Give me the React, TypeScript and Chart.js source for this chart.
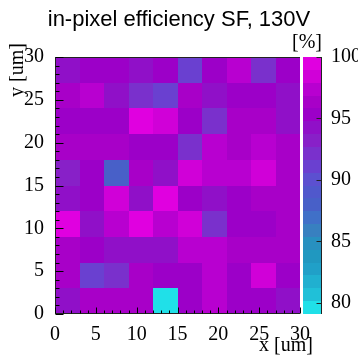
import React, { useEffect, useRef } from "react";
import { Chart, registerables } from "chart.js";
Chart.register(...registerables);

// ---- data ----
const xEdges = [0, 3, 6, 9, 12, 15, 18, 21, 24, 27, 30];
const yEdges = [0, 3, 6, 9, 12, 15, 18, 21, 24, 27, 30];
// efficiency [%] per row, from y = 0-3 (effY0) up to y = 27-30 (effY9)
const effY0 = [94.5, 96.2, 96.3, 96.3, 79.1, 95.2, 97.3, 95.3, 94.8, 93.8];
const effY1 = [96.2, 91.0, 92.3, 96.2, 95.5, 95.3, 97.0, 95.3, 98.5, 95.5];
const effY2 = [96.0, 95.3, 94.0, 94.0, 94.0, 97.0, 97.0, 96.3, 96.3, 96.3];
const effY3 = [99.5, 94.0, 97.5, 99.5, 97.3, 98.5, 92.2, 95.3, 95.3, 96.5];
const effY4 = [94.0, 95.2, 98.3, 94.0, 99.5, 95.5, 94.3, 95.3, 96.3, 96.3];
const effY5 = [93.5, 95.2, 88.0, 96.2, 94.3, 98.5, 97.2, 97.2, 98.5, 96.3];
const effY6 = [96.2, 96.2, 96.2, 95.3, 95.3, 92.5, 97.3, 96.5, 97.3, 96.3];
const effY7 = [95.5, 95.5, 95.5, 99.5, 98.5, 95.3, 92.0, 96.3, 96.3, 94.3];
const effY8 = [96.0, 97.2, 94.0, 92.0, 91.5, 96.3, 94.3, 95.3, 95.5, 94.3];
const effY9 = [94.0, 95.5, 95.0, 94.5, 95.3, 91.0, 95.0, 97.0, 92.0, 95.5];
const effRows = [effY0, effY1, effY2, effY3, effY4, effY5, effY6, effY7, effY8, effY9];

const xTickLabels = [0, 5, 10, 15, 20, 25, 30];
const yTickLabels = [0, 5, 10, 15, 20, 25, 30];
const zTickLabels = [80, 85, 90, 95, 100];
const zMin = 79.1;
const zMax = 100;
const minorStep = 1;

const titleText = "in-pixel efficiency SF, 130V";
const xTitle = "x [um]";
const yTitle = "y [um]";
const zTitle = "[%]";

// 20 contour bands, low -> high
const palette = [
  "#20e0e8", "#20c0d8", "#20b0d0", "#20a0c8", "#2098c0",
  "#2890c0", "#3880c0", "#4070c8", "#4860c8", "#5058cc",
  "#5c50d0", "#6a40d0", "#7a30cc", "#8820c8", "#9010c8",
  "#9c00c8", "#a800c8", "#b800d0", "#d000d8", "#e000e0",
];

const SERIF = "'Liberation Serif', 'DejaVu Serif', serif";
const SANS = "'Liberation Sans', Arial, sans-serif";

function colorFor(v: number) {
  const n = palette.length;
  let k = Math.floor(((v - zMin) / (zMax - zMin)) * n);
  if (k < 0) k = 0;
  if (k > n - 1) k = n - 1;
  return palette[k];
}

const heatmapPlugin = {
  id: "heatmap",
  beforeDatasetsDraw(chart: any) {
    const { ctx, scales } = chart;
    const x = scales.x, y = scales.y, z = scales.z;
    ctx.save();
    effRows.forEach((row, j) => {
      row.forEach((v, i) => {
        const x0 = Math.round(x.getPixelForValue(xEdges[i]));
        const x1 = Math.round(x.getPixelForValue(xEdges[i + 1]));
        const y0 = Math.round(y.getPixelForValue(yEdges[j + 1]));
        const y1 = Math.round(y.getPixelForValue(yEdges[j]));
        ctx.fillStyle = colorFor(v);
        ctx.fillRect(x0, y0, x1 - x0, y1 - y0);
      });
    });
    // colour bar
    const ca = chart.chartArea;
    const barL = Math.round(ca.right + 3);
    const barW = 18;
    const n = palette.length;
    for (let k = 0; k < n; k++) {
      const lo = zMin + (k * (zMax - zMin)) / n;
      const hi = zMin + ((k + 1) * (zMax - zMin)) / n;
      const p0 = Math.round(z.getPixelForValue(hi));
      const p1 = Math.round(z.getPixelForValue(lo));
      ctx.fillStyle = palette[k];
      ctx.fillRect(barL, p0, barW, p1 - p0);
    }
    ctx.restore();
  },
  afterDatasetsDraw(chart: any) {
    const { ctx, chartArea: ca, scales } = chart;
    const x = scales.x, y = scales.y, z = scales.z;
    ctx.save();
    ctx.strokeStyle = "#222";
    ctx.lineWidth = 1;
    ctx.beginPath();
    const L = Math.round(ca.left) + 0.5;
    const T = Math.round(ca.top) + 0.5;
    const B = Math.round(ca.bottom) - 0.5;
    const R = Math.round(ca.right);
    ctx.moveTo(L, T); ctx.lineTo(R, T);
    ctx.moveTo(L, T); ctx.lineTo(L, B + 0.5);
    ctx.moveTo(L - 0.5, B); ctx.lineTo(R, B);
    ctx.stroke();
    ctx.strokeStyle = "#000";
    ctx.beginPath();
    for (let v = xTickLabels[0]; v <= xTickLabels[xTickLabels.length - 1] + 1e-9; v += minorStep) {
      const px = Math.round(x.getPixelForValue(v)) + 0.5;
      const len = xTickLabels.includes(v) ? 6 : 3;
      ctx.moveTo(px, B); ctx.lineTo(px, B - len);
    }
    for (let v = yTickLabels[0]; v <= yTickLabels[yTickLabels.length - 1] + 1e-9; v += minorStep) {
      const py = Math.round(y.getPixelForValue(v)) + 0.5;
      const len = yTickLabels.includes(v) ? 8 : 4;
      ctx.moveTo(L, py); ctx.lineTo(L + len, py);
    }
    ctx.stroke();
    // colour bar axis
    const axX = Math.round(ca.right + 21) + 0.5;
    ctx.strokeStyle = "#222";
    ctx.beginPath();
    ctx.moveTo(axX, Math.round(ca.top)); ctx.lineTo(axX, Math.round(ca.bottom));
    zTickLabels.forEach((v) => {
      const py = Math.round(z.getPixelForValue(v)) + 0.5;
      ctx.moveTo(axX, py); ctx.lineTo(axX - 5, py);
    });
    ctx.stroke();
    // texts
    ctx.fillStyle = "#000";
    ctx.font = `20px ${SERIF}`;
    ctx.textAlign = "right";
    ctx.textBaseline = "alphabetic";
    ctx.fillText(zTitle, Math.round(ca.right + 22), 48);
    ctx.fillText(xTitle, Math.round(ca.right + 13), 351);
    ctx.translate(23, Math.round(ca.top) - 14);
    ctx.rotate(-Math.PI / 2);
    ctx.fillText(yTitle, 0, 0);
    ctx.restore();
  },
};

export default function App() {
  const ref = useRef<HTMLCanvasElement | null>(null);
  useEffect(() => {
    if (!ref.current) return;
    const points: any[] = [];
    effRows.forEach((row, j) =>
      row.forEach((v, i) =>
        points.push({ x: (xEdges[i] + xEdges[i + 1]) / 2, y: (yEdges[j] + yEdges[j + 1]) / 2, v })
      )
    );
    const tickFont = { family: SERIF, size: 20 };
    const chart = new Chart(ref.current, {
      type: "scatter",
      data: {
        datasets: [{ label: "efficiency", data: points, pointRadius: 0, pointHoverRadius: 0 }],
      },
      options: {
        animation: false,
        responsive: false,
        events: [],
        layout: { padding: 0 },
        plugins: {
          legend: { display: false },
          tooltip: { enabled: false },
          title: {
            display: true,
            text: titleText,
            color: "#000",
            font: { family: SANS, size: 22, weight: "normal", lineHeight: 1.2 },
            padding: { top: 7, bottom: 23.6 },
          },
        },
        scales: {
          x: {
            type: "linear",
            position: "bottom",
            min: xTickLabels[0],
            max: xTickLabels[xTickLabels.length - 1],
            grid: { display: false },
            border: { display: false },
            ticks: { color: "#000", font: tickFont, padding: 1, maxRotation: 0, autoSkip: false },
            afterBuildTicks: (s: any) => { s.ticks = xTickLabels.map((v) => ({ value: v })); },
            afterFit: (s: any) => { s.height = 41; },
          },
          y: {
            type: "linear",
            position: "left",
            min: yTickLabels[0],
            max: yTickLabels[yTickLabels.length - 1],
            grid: { display: false },
            border: { display: false },
            ticks: { color: "#000", font: tickFont, padding: 3, autoSkip: false },
            afterBuildTicks: (s: any) => { s.ticks = yTickLabels.map((v) => ({ value: v })); },
            afterFit: (s: any) => { s.width = 55; },
          },
          z: {
            type: "linear",
            position: "right",
            min: zMin,
            max: zMax,
            grid: { display: false },
            border: { display: false },
            ticks: { color: "#000", font: tickFont, padding: 23, autoSkip: false },
            afterBuildTicks: (s: any) => { s.ticks = zTickLabels.map((v) => ({ value: v })); },
            afterFit: (s: any) => { s.width = 58; },
          },
        },
      } as any,
      plugins: [heatmapPlugin],
    });
    return () => chart.destroy();
  }, []);
  return (
    <div style={{ position: "fixed", left: 0, top: 0, width: 358, height: 355, background: "#fff" }}>
      <canvas ref={ref} width={358} height={355} />
    </div>
  );
}
